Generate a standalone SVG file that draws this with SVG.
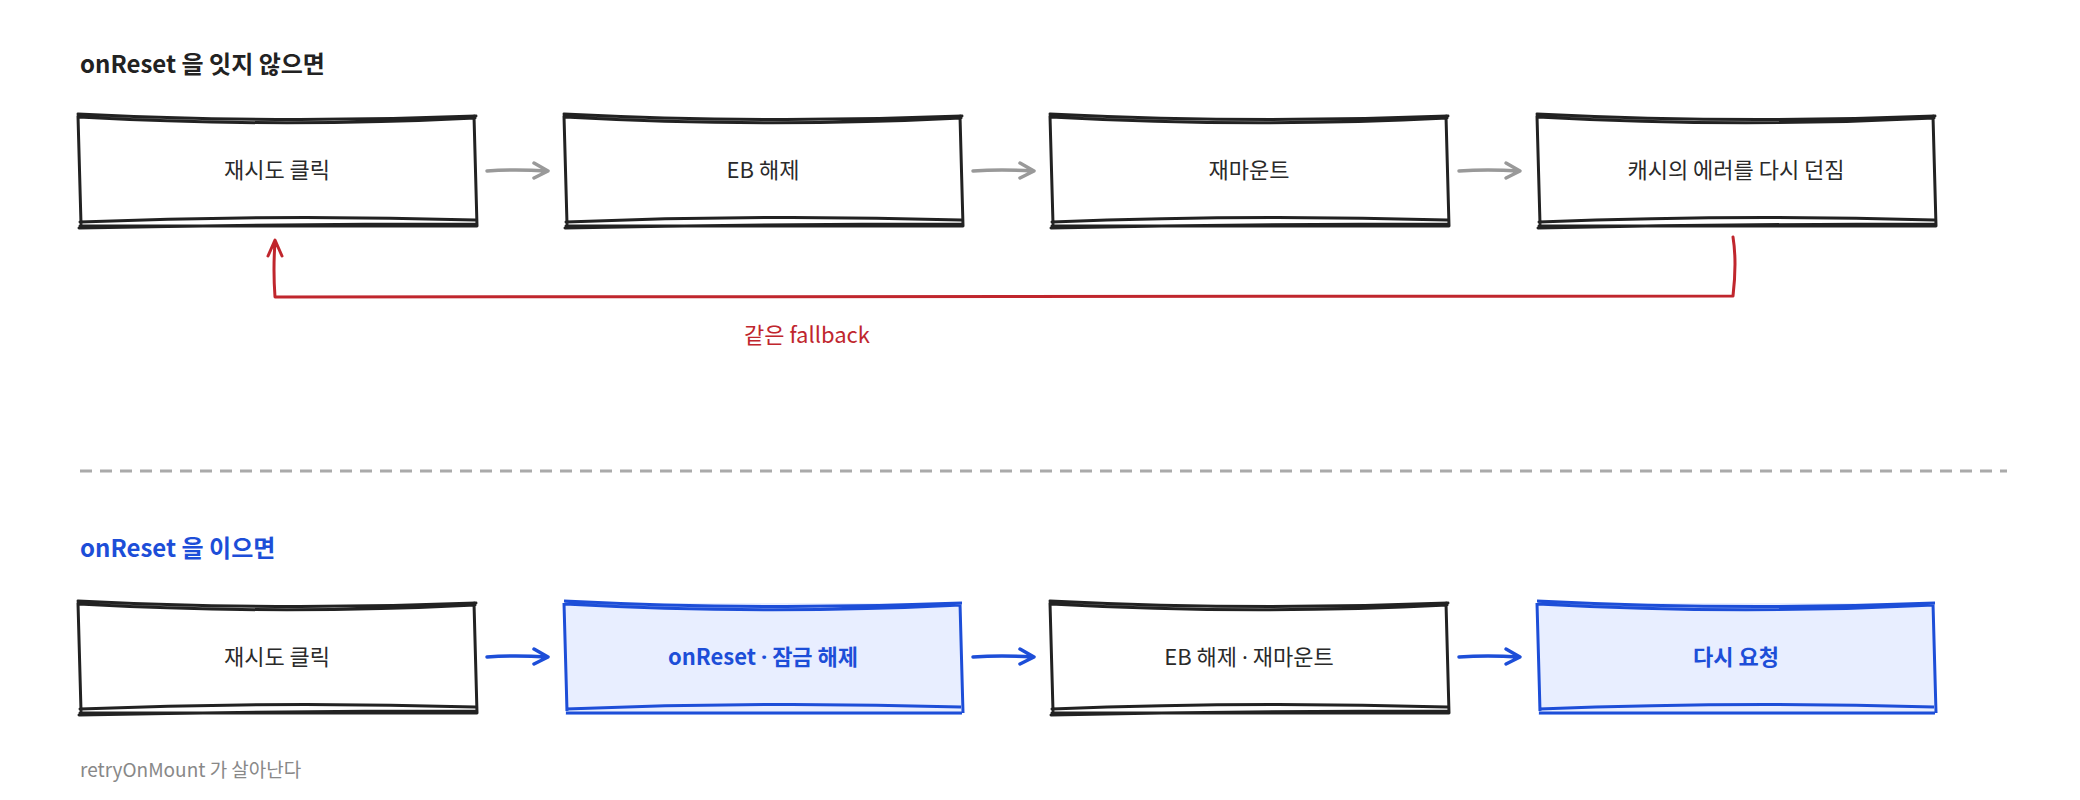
<svg xmlns="http://www.w3.org/2000/svg" width="2080" height="800" viewBox="0 0 2080 800">
<style>
text{font-family:"Noto Sans CJK KR","Noto Sans",sans-serif}
.d{font-family:"Noto Sans",sans-serif}
.t{font-size:22px;fill:#2a2a2a;text-anchor:middle}
.tb{font-size:22px;fill:#1d4ed8;font-weight:bold;text-anchor:middle}
.box{fill:none;stroke:#222;stroke-width:3;stroke-linecap:round}
.hl{fill:#e8eeff}
.g{fill:none;stroke:#999;stroke-width:3.5;stroke-linecap:round;stroke-linejoin:round}
.b{fill:none;stroke:#1d4ed8;stroke-width:3.5;stroke-linecap:round;stroke-linejoin:round}
.r{fill:none;stroke:#c0262d;stroke-width:3;stroke-linecap:round;stroke-linejoin:round}
</style>
<defs>
<g id="frame">
<path class="box" d="M0 0 Q200 10 398 2 M1 3 Q200 14 397 4 M0 2 L3 110 M396 2 L399 112 M2 108 Q200 100 397 106 M2 112 L398 112 M1 114 Q200 110 398 110"/>
</g>
</defs>
<text x="80" y="73" font-size="24" font-weight="bold" fill="#222">onReset 을 잇지 않으면</text>
<g id="n1"><use href="#frame" x="78" y="114"/><text class="t" x="277" y="178">재시도 클릭</text></g>
<g id="n2"><use href="#frame" x="564" y="114"/><text class="t" x="763" y="178">EB 해제</text></g>
<g id="n3"><use href="#frame" x="1050" y="114"/><text class="t" x="1249" y="178">재마운트</text></g>
<g id="n4"><use href="#frame" x="1537" y="114"/><text class="t" x="1736" y="178">캐시의 에러를 다시 던짐</text></g>
<g id="edges">
<path class="g" d="M487 171 Q515 169 547 171 M534 163 L548 171 L534 178"/>
<path class="g" d="M973 171 Q1001 169 1033 171 M1020 163 L1034 171 L1020 178"/>
<path class="g" d="M1459 171 Q1487 169 1519 171 M1506 163 L1520 171 L1506 178"/>
<path class="r" d="M1733 237 Q1737 262 1733 296 L275 297 Q273 270 275 242 M268 256 L275 240 L282 256"/>
<path class="b" d="M487 657 Q515 655 547 657 M534 649 L548 657 L534 664"/>
<path class="b" d="M973 657 Q1001 655 1033 657 M1020 649 L1034 657 L1020 664"/>
<path class="b" d="M1459 657 Q1487 655 1519 657 M1506 649 L1520 657 L1506 664"/>
</g>
<text x="807" y="343" font-size="22" fill="#c0262d" text-anchor="middle">같은 fallback</text>
<line x1="80" y1="471" x2="2007" y2="471" stroke="#aaa" stroke-width="3" stroke-dasharray="12 8"/>
<text x="80" y="557" font-size="24" font-weight="bold" fill="#1d4ed8">onReset 을 이으면</text>
<g id="m1"><use href="#frame" x="78" y="601"/><text class="t" x="277" y="665">재시도 클릭</text></g>
<g id="m2"><rect class="hl" x="565" y="603" width="396" height="112"/><path d="M564 601 Q764 611 962 603 M565 604 Q764 615 961 605 M564 603 L567 711 M960 603 L963 713 M566 709 Q764 701 961 707 M566 713 L962 713" fill="none" stroke="#1d4ed8" stroke-width="3"/><text class="tb" x="763" y="665">onReset <tspan class="d">·</tspan> 잠금 해제</text></g>
<g id="m3"><use href="#frame" x="1050" y="601"/><text class="t" x="1249" y="665">EB 해제 <tspan class="d">·</tspan> 재마운트</text></g>
<g id="m4"><rect class="hl" x="1538" y="603" width="396" height="112"/><path d="M1537 601 Q1737 611 1935 603 M1538 604 Q1737 615 1934 605 M1537 603 L1540 711 M1933 603 L1936 713 M1539 709 Q1737 701 1934 707 M1539 713 L1935 713" fill="none" stroke="#1d4ed8" stroke-width="3"/><text class="tb" x="1736" y="665">다시 요청</text></g>
<text x="80" y="777" font-size="19" fill="#888">retryOnMount 가 살아난다</text>
</svg>
